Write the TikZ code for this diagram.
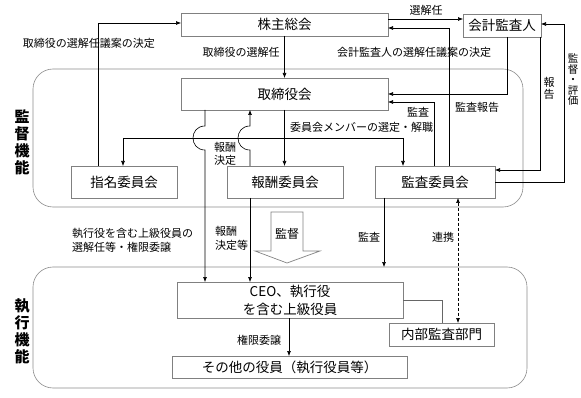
\documentclass[tikz,border=0pt]{standalone}
\usepackage{fontspec}
\setmainfont{Noto Sans CJK JP}
\usetikzlibrary{arrows.meta}
\newcommand\myboxfont{\fontsize{13.5pt}{18pt}\selectfont}
\newcommand\mylabfont{\fontsize{11pt}{14pt}\selectfont}
\newcommand\myheadfont{\fontsize{15pt}{17pt}\selectfont\bfseries}
\tikzset{
  bx/.style={draw=black!50, line width=0.7pt, inner sep=0pt, outer sep=0pt, font=\myboxfont, align=center},
  region/.style={draw=black!45, line width=0.6pt, rounded corners=20pt, inner sep=0pt, outer sep=0pt},
  conn/.style={draw=black, line width=0.6pt},
  arr/.style={conn, -{Latex[length=5pt,width=4pt]}},
  lab/.style={font=\mylabfont, inner sep=0pt, align=center},
}
\begin{document}
\begin{tikzpicture}[x=1pt,y=-1pt]
\useasboundingbox (0,0) rectangle (581,398);
% regions
\node[region, minimum width=490pt, minimum height=138pt] (supreg) at (278,138) {};
\node[region, minimum width=494pt, minimum height=121pt] (exreg) at (280,327.5) {};
% boxes
\node[bx, minimum width=207pt, minimum height=23pt] (gm) at (284.5,24.5) {株主総会};
\node[bx, minimum width=78pt, minimum height=23pt] (aud) at (502,25.5) {会計監査人};
\node[bx, minimum width=207pt, minimum height=32pt] (board) at (284.5,94) {取締役会};
\node[bx, minimum width=106pt, minimum height=32pt] (nom) at (124,182) {指名委員会};
\node[bx, minimum width=116pt, minimum height=32pt] (rem) at (285,182) {報酬委員会};
\node[bx, minimum width=120pt, minimum height=32pt] (ac) at (435,182) {監査委員会};
\node[bx, minimum width=226pt, minimum height=36pt] (ceo) at (290,300) {CEO、執行役\\を含む上級役員};
\node[bx, minimum width=105pt, minimum height=23pt] (ia) at (441.5,334.5) {内部監査部門};
\node[bx, minimum width=235pt, minimum height=22pt] (oth) at (289.5,367) {その他の役員（執行役員等）};
% big arrow
\draw[draw=black!50, line width=0.7pt, fill=white] (271,212) -- (303,212) -- (303,251) -- (320,251) -- (287,263) -- (255,251) -- (271,251) -- cycle;
\node[font=\fontsize{12pt}{14pt}\selectfont, inner sep=0pt] (sv) at (287,234) {監督};
% helper coordinates
\coordinate (k1) at (98,23);
\coordinate (k3) at (0,19);
\coordinate (k4) at (449,28);
\coordinate (k5) at (507,94);
\coordinate (k6) at (434,102);
\coordinate (k7) at (540,170);
\coordinate (k8) at (564,182);
\coordinate (k8b) at (0,24);
\coordinate (k9a) at (123,138);
\coordinate (k9b) at (403,138);
\coordinate (k10) at (205,0);
\coordinate (k11) at (250,0);
\coordinate (k13) at (384,0);
\coordinate (k14) at (458,0);
\coordinate (k15) at (442,300);
\coordinate (k16) at (289,0);
% connectors
\draw[arr] (nom.north -| k1) |- (gm.west |- k1);
\draw[arr] (gm.south) -- (board.north);
\draw[arr] (gm.east |- k3) -- (aud.west |- k3);
\draw[arr] (ac.north -| k4) |- (gm.east |- k4);
\draw[arr] (aud.south -| k5) |- (board.east |- k5);
\draw[arr] (ac.north -| k6) |- (board.east |- k6);
\draw[arr] (aud.south -| k7) |- (ac.east |- k7);
\draw[arr] (ac.east |- k8) -- (k8) -- (k8 |- k8b) -- (aud.east |- k8b);
\draw[arr] (board.south) -- (board.south |- rem.north);
\draw[conn] (k9a) -- (k9b);
\draw[arr] (k9a) -- (nom.north -| k9a);
\draw[arr] (k9b) -- (ac.north -| k9b);
\draw[arr] (board.south -| k10) -- (205,126) .. controls (189,126) and (189,150) .. (205,150) -- (ceo.north -| k10);
\draw[arr] (rem.north -| k11) -- (250,150) .. controls (234,150) and (234,126) .. (250,126) -- (board.south -| k11);
\draw[arr] (rem.south -| k11) -- (ceo.north -| k11);
\draw[arr] (ac.south -| k13) -- (exreg.north -| k13);
\draw[conn, dash pattern=on 3pt off 2pt, {Latex[length=5pt,width=4pt]}-{Latex[length=5pt,width=4pt]}] (ac.south -| k14) -- (ia.north -| k14);
\draw[conn, draw=black!60] (ceo.east |- k15) -| (ia.north -| k15);
\draw[arr] (ceo.south -| k16) -- (oth.north -| k16);
% labels
\node[lab] (l1) at (89,43) {取締役の選解任議案の決定};
\node[lab] (l2) at (241,52) {取締役の選解任};
\node[lab] (l3) at (426,10) {選解任};
\node[lab] (l4) at (414,52) {会計監査人の選解任議案の決定};
\node[lab, anchor=west] (l5) at (290,127) {委員会メンバーの選定・解職};
\node[lab] (l6) at (418,112) {監査};
\node[lab] (l7) at (477,107) {監査報告};
\node[lab, font=\fontsize{11pt}{12pt}\selectfont] (l8) at (549,88) {報\\告};
\node[lab, font=\fontsize{10.5pt}{10.5pt}\selectfont] (l9) at (573,80) {監\\督\\・\\評\\価};
\node[lab, font=\fontsize{11pt}{13pt}\selectfont] (l10) at (225,153.5) {報酬\\決定};
\node[lab, align=left, anchor=west] (l11) at (72,240) {執行役を含む上級役員の\\選解任等・権限委譲};
\node[lab, align=left, anchor=west] (l12) at (215,238) {報酬\\決定等};
\node[lab] (l13) at (369,237) {監査};
\node[lab] (l14) at (443,237) {連携};
\node[lab] (l15) at (259,340) {権限委譲};
\node[font=\myheadfont, align=center, inner sep=0pt] (h1) at (22,142) {監\\督\\機\\能};
\node[font=\myheadfont, align=center, inner sep=0pt] (h2) at (22,331) {執\\行\\機\\能};
\end{tikzpicture}
\end{document}
